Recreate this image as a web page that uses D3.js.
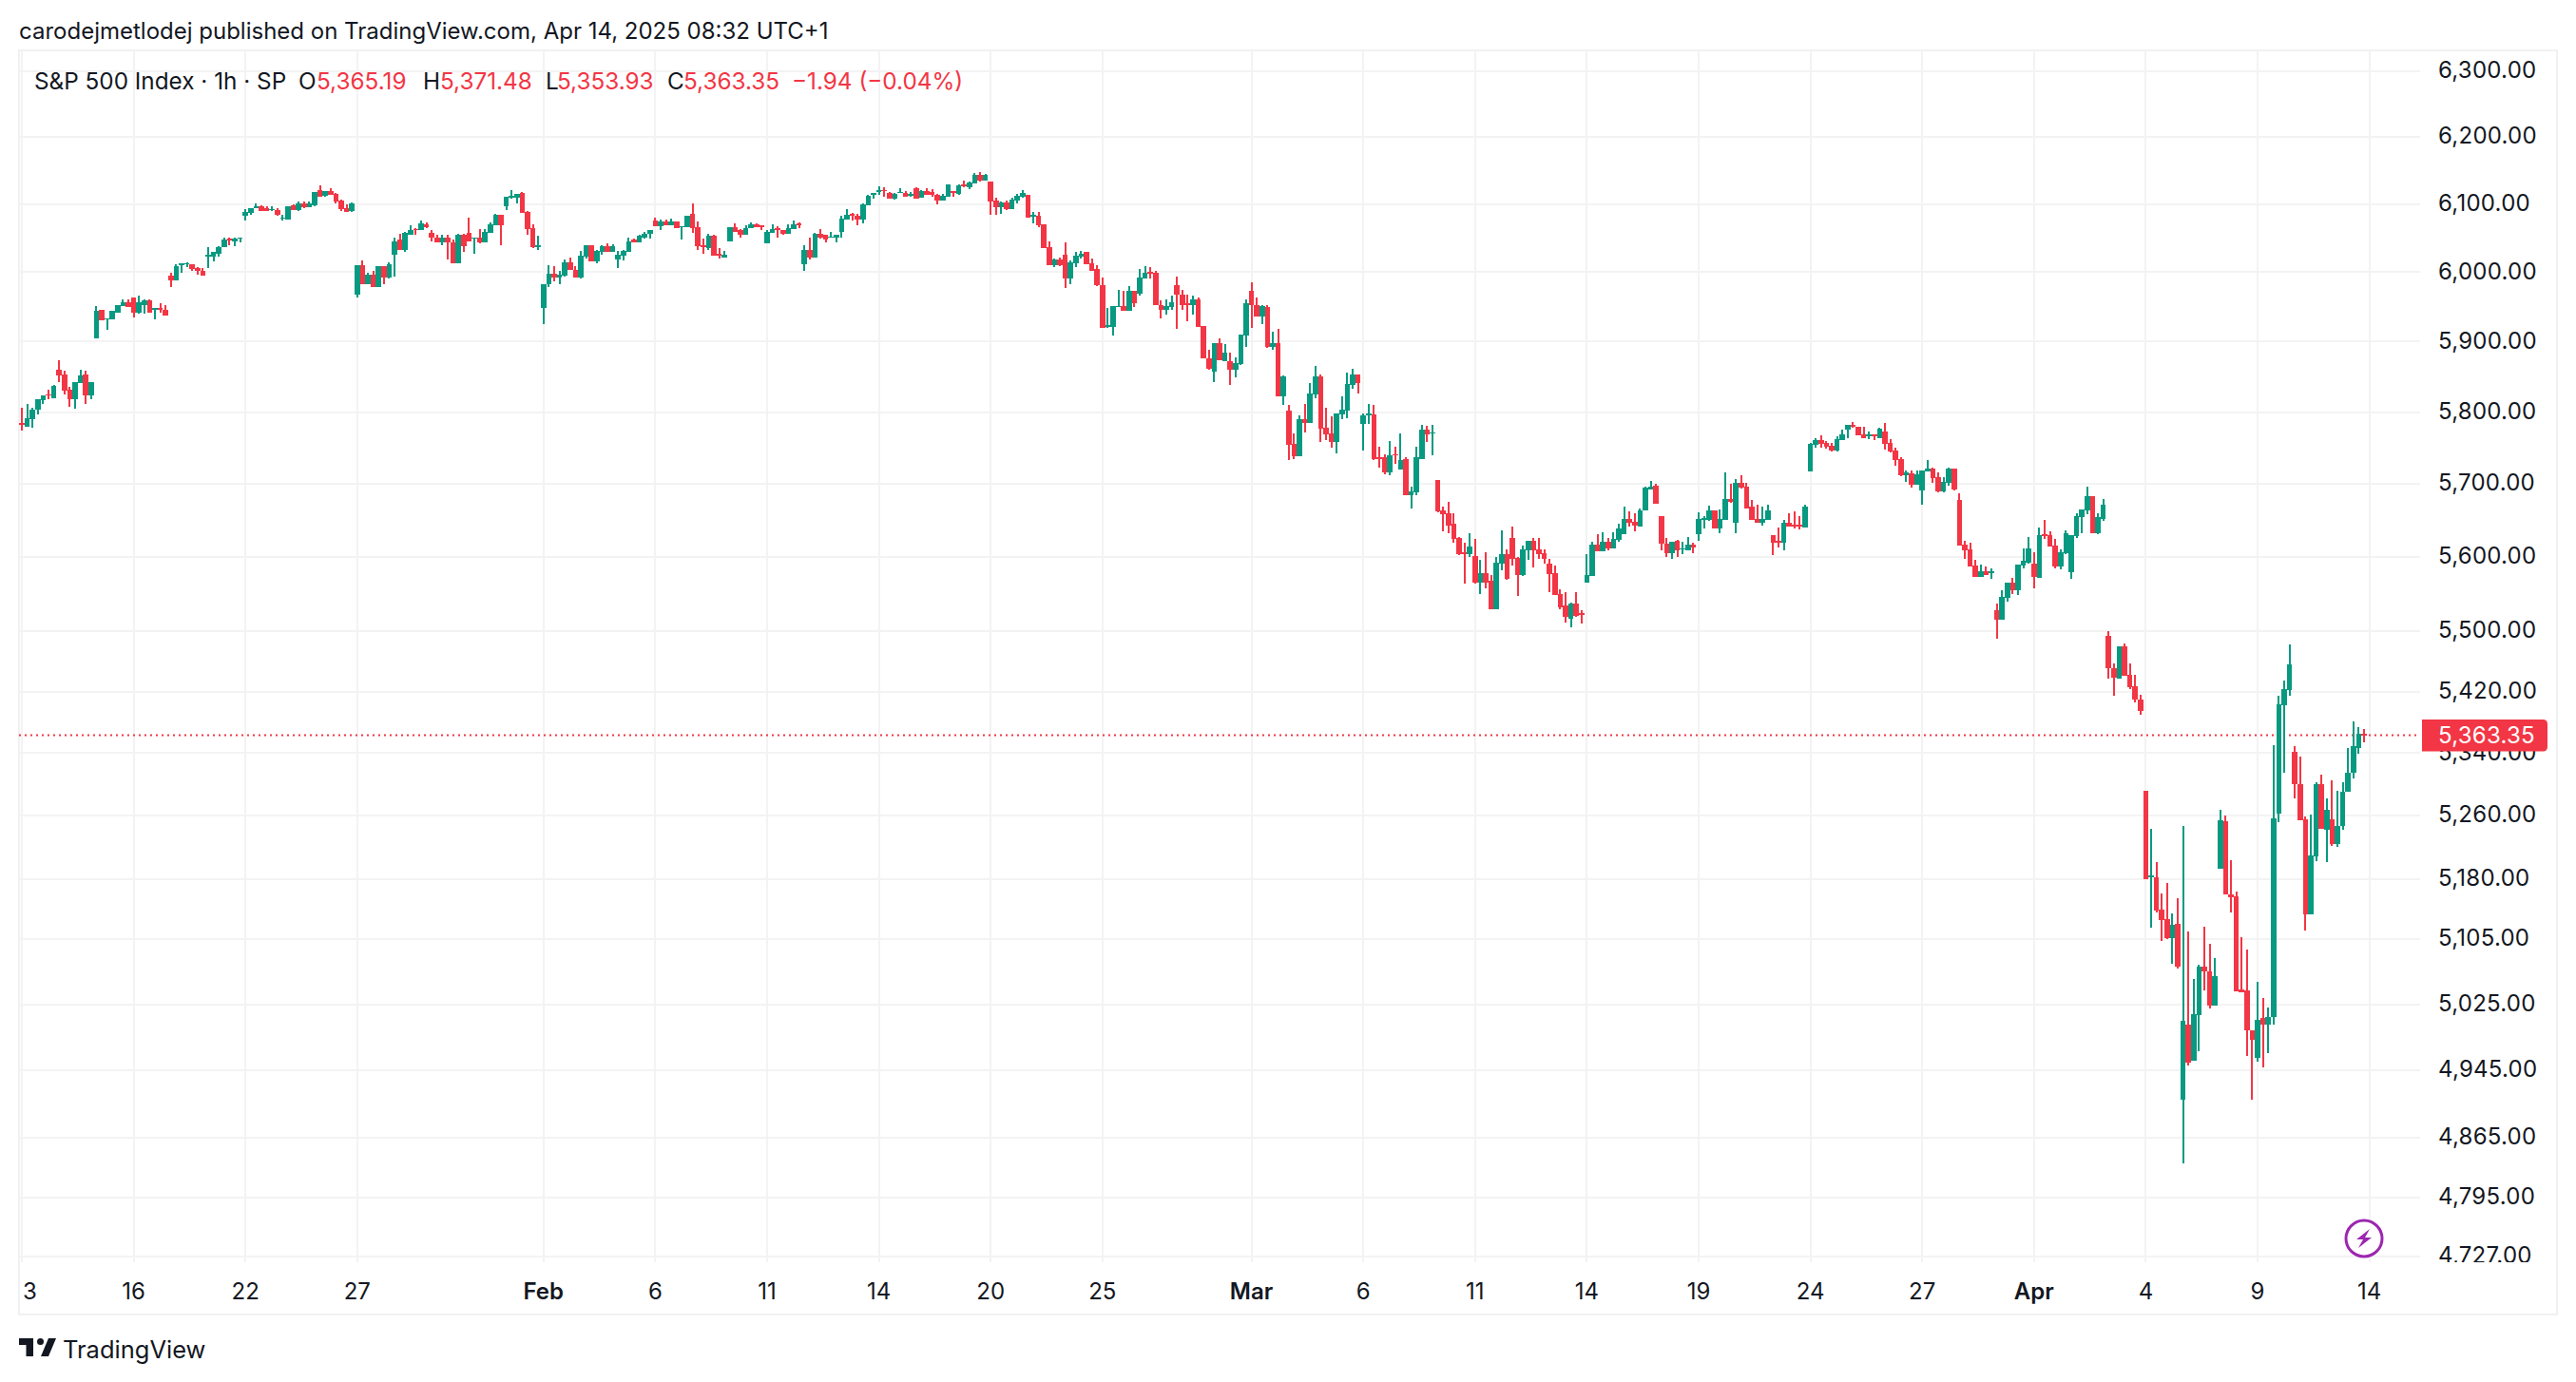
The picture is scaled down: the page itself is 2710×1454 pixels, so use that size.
<!DOCTYPE html>
<html>
<head>
<meta charset="utf-8">
<title>S&amp;P 500 Index 1h</title>
<script src="https://cdn.jsdelivr.net/npm/d3@7"></script>
<style>
  html, body { margin: 0; padding: 0; background: #fff; }
  svg { display: block; }
  text { font-family: Inter, "Noto Sans", sans-serif; }
</style>
</head>
<body>
<div id="chart"></div>
<script>
// one row per hourly bar: [open, high, low, close]
const janBars = [
  [5784.4,5806,5774,5781.7],[5780,5812,5780,5792],[5790.6,5806,5778.6,5804],[5803,5817.6,5797,5817.6],[5816.7,5824,5812,5824],[5825,5831,5817.6,5823.4],[5820,5839,5820,5836.5],
  [5859.5,5873,5842,5851.3],[5852.7,5858,5824.8,5830],[5831,5835,5807,5817.6],[5817.6,5843,5805,5842],[5841,5859.5,5841,5851.3],[5852.7,5858,5811,5824],[5824,5843,5817.6,5843],
  [5904,5950.5,5904,5943.6],[5945,5946,5930,5930],[5931.4,5933.6,5916.4,5933.6],[5932,5943.6,5932,5943.6],[5942,5953,5942,5952],[5950.5,5961,5950.5,5957],[5957,5960,5949,5949],
  [5964,5964,5934,5942],[5942,5965.5,5939.5,5956],[5953,5960,5939.5,5958.6],[5958.6,5960,5942,5942],[5945,5947.7,5931.4,5947.7],[5947.7,5954.5,5940.8,5945],[5945,5953,5937,5937],
  [5995.5,5999.5,5979,5988.6],[5988.6,6012,5988.6,6009.3],[6010.7,6013.5,5999.5,6013.5],[6011.6,6015,6008,6013.5],[6012,6012,6002,6005],[6006.5,6008,5996.8,6002.3],[6002.3,6006.5,5995.5,5995.5],
  [6023,6037,6006.5,6026],[6023,6030,6016,6029],[6027.4,6038.6,6023,6037],[6036,6050,6036,6047],[6048.4,6050,6040,6046],[6044.7,6050,6038.6,6048.4],[6049,6051,6044,6051],
  [6083,6093,6076,6088.8],[6087.4,6094.4,6084.6,6094.4],[6093.5,6101,6093.5,6097],[6097,6098.6,6090,6090],[6094.4,6097,6090,6090],[6091,6097,6089,6093],[6091.6,6094.4,6083,6084.6],
  [6078.6,6084.6,6075,6080.5],[6077.7,6097,6077.7,6097],[6098.6,6100,6091.6,6091.6],[6091.6,6104,6090,6101.4],[6101.4,6104,6094.4,6095.3],[6095.8,6104,6095.8,6101.4],[6098.6,6118,6097,6118],
  [6121,6128,6111,6111],[6112.6,6119.5,6111,6119.5],[6119.5,6123.7,6114,6114],[6115.3,6116.7,6101.4,6104],[6105.6,6107,6090,6093],[6094.4,6100,6088.8,6088.8],[6090,6102.8,6088.8,6101.4],
  [5968,6010.7,5962.7,6010.7],[6010.7,6017,5983,5983],[5983,5999.5,5982,5996.8],[5996.8,6002,5979,5979],[5979,6009.3,5979,6009.3],[6009.3,6009.3,5983,5992.7],[5992.7,6015,5991,6012],
  [6026,6050,5994,6045.6],[6047,6056.7,6032,6033],[6033,6059.5,6030,6058],[6055.3,6069.3,6054,6062.3],[6063.7,6065,6054,6062.3],[6061,6075,6061,6072],[6070.7,6073.5,6065,6066.5],
  [6058,6062.3,6045.6,6050],[6051,6055.3,6043,6044],[6044,6055.3,6040,6051],[6051,6054,6018,6043.3],[6044,6047,6013.5,6013.5],[6013.5,6056.7,6013.5,6054],[6054,6056.7,6029,6038.6],
  [6058,6080.5,6045.6,6045.6],[6049,6051,6027.4,6051],[6050,6063.7,6041.6,6043],[6043,6063.7,6043,6059.5],[6058,6073.5,6058,6070.7],[6068,6086,6068,6084.6],[6084.6,6084.6,6040,6069.3],
  [6097,6111,6091.6,6111],[6109.8,6121,6108,6112.6],[6109.8,6115.3,6101.4,6115.3],[6116.7,6118,6087.4,6087.4],[6088.8,6090,6054,6063.7],[6065,6070.7,6034.6,6036],[6036.3,6052.6,6031.8,6040]
];
const febBars = [
  [5947.7,5983,5924.6,5983],[5982,6010.7,5978,5998],[5998,6009.3,5987,5992.7],[5992.7,6002,5982,5996.4],[5995.5,6019,5994,6015],[6015,6021.7,6002.8,6002.8],[6003.7,6009.3,5992.7,5992.7],
  [5992.7,6031.6,5991,6024.6],[6023,6040,6020,6040],[6040,6040,6016,6016],[6016,6033,6013.5,6031.6],[6030,6040,6026,6038.6],[6038.6,6042.8,6029,6029],[6029,6041,6029,6038.6],
  [6019,6031.6,6006.5,6026],[6024.6,6033,6017.7,6031.6],[6030,6051,6030,6045.6],[6047,6048.4,6043,6044],[6044,6055.3,6044,6052.6],[6050,6059.5,6048.4,6055.8],[6055.8,6062.3,6048.4,6061],
  [6076,6080.5,6067.7,6067.7],[6067.7,6077.7,6061,6074.9],[6074.9,6076.8,6068,6069.3],[6069.3,6079,6068,6074.4],[6074.9,6074.9,6064.2,6064.2],[6065.6,6067.9,6047,6067.9],[6065.6,6083.3,6065.6,6083.3],
  [6086,6101.4,6058,6065],[6066.5,6074.9,6033,6038.6],[6040,6048.4,6027.4,6036],[6034.6,6056.7,6033,6052.6],[6052.6,6055.3,6024.6,6024.6],[6027.4,6035.8,6020.3,6024.6],[6021.8,6031.6,6021.8,6026],
  [6045.6,6066.5,6045.6,6066.5],[6066.5,6072,6059.5,6059.5],[6062.3,6063.7,6051,6054],[6054,6069.3,6054,6065],[6064.2,6073.5,6064.2,6070.7],[6070.7,6072,6066.5,6066.5],[6069.3,6069.3,6061,6066.5],
  [6042.8,6061,6042.8,6059.5],[6058,6070.7,6058,6063.7],[6065,6067.9,6050,6062.3],[6062.3,6062.3,6054,6056.7],[6056.7,6070.7,6056.7,6065],[6063.7,6076,6063.7,6070.7],[6072,6073.5,6065,6069.3],
  [6012,6040,6002.3,6033],[6033,6050,6019,6021.7],[6021.7,6058,6021.7,6056.7],[6056.7,6063.7,6048.4,6050],[6054,6055.3,6043,6047],[6050,6059.5,6050,6052],[6051,6054,6043,6054],
  [6059.5,6082,6051,6079],[6077.7,6093,6077.7,6084.6],[6086,6087.4,6076,6083.3],[6083.3,6086,6068,6077.7],[6077.7,6101.4,6072,6100],[6098.6,6114,6098.6,6112.6],[6114,6116.7,6108.4,6116.7],
  [6118,6126.5,6114,6121],[6121,6125,6111,6118.6],[6116.7,6118,6108.4,6108.4],[6108.4,6116.7,6107,6115.3],[6115.8,6123.7,6115.8,6118],[6116.7,6119.5,6111,6111],[6113,6118,6111,6114.9],
  [6123.7,6125,6108.4,6108.4],[6109.8,6121,6109.8,6119.5],[6119.5,6123.7,6114,6114],[6118,6122.3,6111,6114],[6114,6115.3,6100,6105.6],[6105.6,6115.3,6105.6,6112.6],[6111,6129,6111,6129],
  [6119.5,6119.5,6111,6116.7],[6115.3,6129,6114,6128],[6129,6135,6125,6126.5],[6125,6133.4,6122.3,6132],[6130.7,6146,6130.7,6143],[6143,6147.4,6133.4,6135],[6135,6144.6,6135,6143],
  [6133.4,6133.4,6084.6,6104],[6105.6,6109.8,6084.6,6095.8],[6095.8,6104,6085.8,6102.8],[6102.8,6105.6,6091.6,6093],[6093,6109.8,6093,6107],[6105.6,6115.3,6101.4,6112.6],[6111,6121,6109.8,6116.7],
  [6114,6114,6080.5,6080.5],[6081.9,6088.8,6072,6084.6],[6083.3,6088.8,6066.5,6069.3],[6070.7,6070.7,6034.6,6034.6],[6036,6045.6,6010.7,6010.7],[6010.7,6020.3,6008,6019],[6019,6021.7,6009.3,6010.7],
  [6026,6044,5977.7,5991.4],[5991.4,6017.7,5982,6015],[6013.5,6029,6008,6024.6],[6023,6031.6,6020.3,6027.4],[6029,6030,6012,6012],[6013.5,6020.3,6002.3,6002.3],[6004.6,6010.7,5980.4,5981.8],
  [5981.8,5992.7,5919,5919],[5920.4,5947.7,5919,5923],[5920.4,5950.5,5908,5950.5],[5949.6,5975,5949.6,5951.4],[5950.5,5972.3,5943.6,5943.6],[5943.6,5980.4,5943.6,5972.3],[5973.6,5973.6,5949,5954.5],
  [5969.5,6005,5965.5,5992.7],[5991.4,6009.3,5991.4,5999.5],[6001,6008,5991.4,5998],[5999.5,6002,5952,5952],[5953,5958.6,5932.7,5946],[5946,5960,5938,5950.5],[5949,5965.5,5946,5956],
  [5981.8,5993.6,5917.7,5967],[5968,5975,5946,5953],[5954.5,5968,5928.6,5953],[5952,5965.5,5938,5960],[5960,5962.7,5920.4,5920.4],[5921.8,5921.8,5875.7,5875.7],[5875.7,5887.8,5859.5,5860.8],
  [5857.7,5897.3,5843,5897.3],[5897.3,5904,5873,5873],[5871.6,5896,5871.6,5883.8],[5871.6,5883.8,5837.8,5859.5],[5859.5,5877,5848.6,5869],[5867.6,5909.5,5866,5909.5],[5908,5960,5893,5954.5]
];
const marBars = [
  [5972.3,5986,5919,5952],[5952,5962.7,5935.5,5935.5],[5935.5,5953,5924.6,5950.5],[5949,5952,5890.5,5891.9],[5891.9,5913.6,5887.8,5897.3],[5897.3,5917.7,5821.6,5821.6],[5821.6,5851.3,5810.7,5850],
  [5802.3,5810.4,5732.5,5754.8],[5756,5770.6,5733.8,5739],[5739,5795.6,5739,5790.4],[5790.4,5811.8,5772,5785],[5785,5841.6,5785,5826.7],[5825.3,5864.7,5820,5851],[5851,5852.5,5758.8,5777.2],
  [5778.5,5806.3,5761.4,5769.3],[5770.6,5794.3,5750.9,5758.8],[5758.8,5798.2,5743,5798.2],[5797,5822.6,5790.4,5803.6],[5802.3,5855.2,5791.7,5840.3],[5839,5860.6,5833.5,5853.8],[5852.5,5852.5,5826.7,5841.6],
  [5783.8,5798,5746.9,5795.6],[5796,5811.8,5783.8,5798.2],[5797,5810.4,5732.5,5733.8],[5737.7,5752.2,5721.9,5734.7],[5736.4,5741.6,5712.8,5715.4],[5715.4,5760,5711.5,5740.3],[5741.6,5752.2,5727.2,5739.4],
  [5719.3,5770.6,5719.3,5732.5],[5733.8,5736.4,5683.8,5683.8],[5683.8,5695.6,5666.7,5690.3],[5689,5752.2,5685,5736.4],[5734.2,5782.5,5734.2,5776],[5776,5781.2,5758,5768.5],[5769.8,5782.5,5740.3,5772],
  [5706,5706,5660.3,5661.6],[5663,5668.2,5635,5657.8],[5659,5674.8,5632.7,5643.2],[5645.8,5659,5619.3,5624.6],[5626,5627.3,5602,5603.5],[5606,5619.3,5564.3,5604],[5603.5,5632.7,5599.6,5614],
  [5600.8,5625,5564.3,5565.6],[5565.6,5595.8,5550.5,5578.7],[5578.7,5606,5558,5565.6],[5568,5575.6,5529.4,5529.4],[5529.4,5599.6,5529.4,5592],[5591,5636.2,5582,5603.5],[5603.5,5610,5569.7,5571],
  [5625.6,5641,5588.2,5597],[5598.2,5599.6,5547,5575.6],[5575.6,5615.6,5574,5610],[5609,5622,5595.8,5622],[5622,5626,5586,5609],[5610,5626,5597,5603.5],[5605,5610,5591,5597],
  [5591,5597,5552,5577],[5578.7,5589,5548.8,5548.8],[5550,5556.4,5530,5532.7],[5534,5552,5511.6,5519],[5516.4,5539,5505,5537.8],[5537.8,5553,5519,5520],[5524,5527.7,5510,5522],
  [5565.6,5603.5,5565.6,5575.6],[5574.4,5620.8,5574.4,5616.9],[5616.9,5631.3,5608,5608],[5608,5634,5608,5620.8],[5620.8,5626,5609.4,5612],[5612,5634,5612,5624.6],[5623.4,5645.8,5620.8,5639],
  [5631.3,5669,5631.3,5652],[5652,5662.8,5641.8,5647],[5648,5659,5635,5643],[5641.8,5666.7,5641.8,5664],[5663,5695.6,5663,5694.3],[5692,5703.5,5692,5696],[5697,5699.6,5673,5673],
  [5655.3,5655.3,5608.4,5617.7],[5618,5626,5600,5605],[5605,5621,5597,5621],[5622.4,5623.7,5600,5609],[5610,5621,5603.5,5612],[5609,5627.3,5609,5616.7],[5616.7,5619.4,5604.8,5613],
  [5631.3,5660.3,5622.4,5652.4],[5651,5655.3,5639.2,5653.3],[5651,5669.7,5649.8,5663],[5663,5663,5639.2,5639.2],[5639.2,5664.3,5632.6,5652.4],[5651,5716,5651,5679],[5679,5700,5673.7,5675],
  [5646,5706.6,5632.6,5701.3],[5701.3,5711.8,5693.4,5694.7],[5696,5701.3,5665.6,5665.6],[5668.2,5677.6,5651,5651],[5652.4,5671,5646,5646],[5646,5668.2,5643,5652.4],[5651,5672,5651,5663],
  [5630.3,5630.3,5603,5620],[5622.4,5640,5613,5620],[5620,5650,5609,5647.2],[5647,5659,5641.5,5641.5],[5644.5,5661.6,5639.2,5641.5],[5644.5,5655.3,5638,5641.5],[5640.6,5671,5640.6,5668.2],
  [5717,5756.6,5717,5755.3],[5754,5763,5750,5760.5],[5760.5,5767,5750,5755.3],[5756.6,5759,5748.7,5751.3],[5752.6,5756.6,5744.8,5746],[5746,5765.8,5744.8,5761.8],[5760.5,5775,5760.5,5768.4],
  [5775,5781.6,5763.2,5781.6],[5782,5786.8,5778,5780],[5780,5780,5767,5767],[5768.4,5778.9,5763.2,5763.2],[5766.6,5772.4,5761.8,5768.4],[5768.4,5768.4,5760.5,5765.8],[5763.2,5777.6,5763.2,5776.3],
  [5772.4,5784.2,5747.4,5755.3],[5756.6,5761.8,5743.5,5744.8],[5746,5750,5725,5732.9],[5734.2,5736.8,5710.5,5711.8],[5711.8,5718.4,5702.6,5715.3],[5714.4,5718.4,5694.7,5698.7],[5698.7,5718.4,5698.7,5713],
  [5690.8,5718.4,5671,5718.4],[5717,5733,5717,5721],[5721,5722.4,5701.3,5708],[5709,5715.8,5688,5689.5],[5689.5,5709.3,5688,5702.6],[5701.3,5722.4,5697.4,5721],[5721,5721,5690.8,5692],
  [5677.6,5686.8,5615.5,5615.5],[5617,5622,5598,5609],[5610,5619.4,5587.6,5587.6],[5589,5595.8,5572.4,5572.4],[5572.4,5590,5572.4,5580.8],[5580.8,5587,5575,5575],[5578.6,5585,5571,5580.4],
  [5527.8,5536.6,5490,5515],[5515,5555.5,5515,5546.6],[5545.4,5565.6,5540,5565.6],[5565.6,5572,5550.4,5555.5],[5555.5,5589.5,5549,5589.5],[5588,5611.5,5584.5,5594.5],[5592.9,5627.3,5591.6,5611.5]
];
const aprBars = [
  [5591.6,5606,5558,5573],[5571.9,5640.5,5571.9,5630],[5631.3,5651,5624.6,5628.6],[5630,5635.5,5614,5614],[5615.5,5624.6,5584.5,5587],[5587,5610,5583,5606],[5605,5636.6,5603.5,5632.6],
  [5579.4,5630,5570.6,5630],[5628.6,5659.4,5626,5655.3],[5653.9,5664.3,5632.6,5664.3],[5663,5696,5657.8,5682.8],[5682.8,5682.8,5632.6,5632.6],[5632.6,5659.4,5631.3,5653.9],[5652.4,5679,5649.8,5671],
  [5493.7,5500,5437,5451],[5451,5457.3,5415.3,5438.4],[5437,5479.6,5437,5479.6],[5479.6,5483.5,5440.9,5440.9],[5442.8,5457.3,5423.9,5426.3],[5427.8,5442.8,5406.4,5409.3],[5409.6,5415.7,5390,5395.4],
  [5291.5,5291.5,5180,5180],[5182.7,5243.1,5119,5184],[5181.8,5201,5138,5140],[5141.8,5161.8,5102,5128.6],[5129.5,5175,5105,5106],[5106,5136.4,5074,5122.7],[5123.6,5156,5069,5071.4],
  [4910.4,5247,4835.3,5004.8],[5000,5114,4950.8,4954.7],[4956.4,5055.8,4956.4,5012.6],[5011.7,5072.8,4967.6,5071.4],[5071.4,5120.4,5042,5064.7],[5065.5,5099,5020,5023.2],[5023.2,5081.9,5023.2,5059.7],
  [5193,5267,5193,5253.6],[5252.7,5259.5,5160,5160],[5161,5203,5138,5157],[5158,5163.5,5041,5041],[5043.2,5107,5040,5040],[5041.5,5091.5,4962.9,4992.8],[4993.6,4993.6,4910.4,4982.2],
  [4960,5052,4955,5006.5],[5007.8,5032.6,4948.6,5000],[5000,5020.6,4966,5009],[5009,5350.4,5000,5255.9],[5262.4,5415.3,5251,5404],[5402,5435,5315,5423.9],[5422.9,5482,5415.3,5456.8],
  [5342,5349.5,5281.7,5300.6],[5300.6,5335.8,5254,5254],[5255,5258.6,5115,5135],[5135.5,5261,5135.5,5208.8],[5208,5303,5202,5300.6],[5300.6,5312.8,5243,5243],[5242,5281.7,5201,5267],
  [5255,5305,5221.6,5224],[5224,5291.5,5220.8,5247],[5247,5303,5242,5290.6],[5290.6,5347,5290.6,5315],[5315,5381.5,5307.4,5349.5],[5347,5374,5339.5,5365.6],[5365.19,5371.48,5353.93,5363.35]
];

const priceTicks = [6300,6200,6100,6000,5900,5800,5700,5600,5500,5420,5340,5260,5180,5105,5025,4945,4865,4795,4727];
// trading day count since the first bar, and the label printed under it
const dayTicks = [0,3,6,9,14,17,20,23,26,29,33,36,39,42,45,48,51,54,57,60,63];
const dayLabels = ['3','16','22','27','Feb','6','11','14','20','25','Mar','6','11','14','19','24','27','Apr','4','9','14'];
const monthLabels = ['Feb','Mar','Apr'];
const barsPerDay = 7;
const lastPrice = 5363.35;

const legendParts = [
  { x: 36, text: 'S&P 500 Index · 1h · SP', dark: true },
  { x: 314, text: 'O', dark: true }, { x: 333, text: '5,365.19' },
  { x: 445, text: 'H', dark: true }, { x: 463, text: '5,371.48' },
  { x: 574, text: 'L', dark: true }, { x: 586, text: '5,353.93' },
  { x: 702, text: 'C', dark: true }, { x: 719, text: '5,363.35' },
  { x: 833, text: '−1.94 (−0.04%)' },
];

const W = 2710, H = 1454;
const COL = { up: '#089981', down: '#f23645', grid: '#f3f3f4', frame: '#f0f1f2', text: '#131722' };
const bars = [...janBars, ...febBars, ...marBars, ...aprBars];

const svg = d3.select('#chart').append('svg')
  .attr('width', W).attr('height', H).attr('viewBox', `0 0 ${W} ${H}`);

const paneLeft = 20, paneRight = 2546, paneTop = 53, paneBottom = 1328;

const x = d3.scaleLinear().domain([0, 440]).range([23, 2487]);
const y = d3.scaleLog().domain([4727, 6300]).range([1322, 74.5]);

svg.append('defs').append('clipPath').attr('id', 'axis-clip')
  .append('rect').attr('x', paneRight).attr('y', paneTop).attr('width', 144).attr('height', paneBottom - paneTop);

// Title
svg.append('text').attr('x', 20).attr('y', 41)
  .attr('font-size', 24).attr('fill', COL.text)
  .text('carodejmetlodej published on TradingView.com, Apr 14, 2025 08:32 UTC+1');

// Frame
svg.append('rect').attr('x', paneLeft).attr('y', paneTop)
  .attr('width', 2690 - paneLeft).attr('height', 1383 - paneTop)
  .attr('fill', 'none').attr('stroke', COL.frame).attr('stroke-width', 2);

// Grid
const grid = svg.append('g').attr('shape-rendering', 'crispEdges').attr('stroke', COL.grid).attr('stroke-width', 2);
grid.selectAll('.h').data(priceTicks).join('line').attr('class', 'h')
  .attr('x1', paneLeft).attr('x2', paneRight)
  .attr('y1', d => y(d)).attr('y2', d => y(d));
grid.selectAll('.v').data(dayTicks).join('line').attr('class', 'v')
  .attr('x1', d => x(d * barsPerDay)).attr('x2', d => x(d * barsPerDay))
  .attr('y1', paneTop).attr('y2', paneBottom);

// Last price line, under the candles
svg.append('line')
  .attr('x1', paneLeft).attr('x2', paneRight)
  .attr('y1', y(lastPrice)).attr('y2', y(lastPrice))
  .attr('stroke', COL.down).attr('stroke-width', 2).attr('stroke-dasharray', '2,4');

// Candles
const candleG = svg.append('g').attr('shape-rendering', 'crispEdges');
const candles = candleG.selectAll('g').data(bars).join('g')
  .attr('fill', d => d[3] >= d[0] ? COL.up : COL.down);
candles.append('rect')
  .attr('x', (d, i) => Math.round(x(i)) - 1).attr('width', 2)
  .attr('y', d => y(d[1])).attr('height', d => y(d[2]) - y(d[1]));
candles.append('rect')
  .attr('x', (d, i) => Math.round(x(i) - 2.75))
  .attr('width', (d, i) => Math.round(x(i) + 2.75) - Math.round(x(i) - 2.75))
  .attr('y', d => y(Math.max(d[0], d[3])))
  .attr('height', d => Math.max(1.5, Math.abs(y(d[0]) - y(d[3]))));

// Legend
svg.append('g').selectAll('text').data(legendParts).join('text')
  .attr('x', d => d.x).attr('y', 94)
  .attr('font-size', 24.3).attr('fill', d => d.dark ? COL.text : COL.down)
  .text(d => d.text);

// Price axis
svg.append('g').attr('clip-path', 'url(#axis-clip)')
  .selectAll('text').data(priceTicks).join('text')
  .attr('x', 2565).attr('y', d => y(d)).attr('dy', '0.3em')
  .attr('font-size', 24).attr('letter-spacing', 0.25).attr('fill', COL.text)
  .text(d => d3.format(',.2f')(d));

// Time axis
svg.append('g').selectAll('text').data(dayTicks).join('text')
  .attr('x', (d, i) => i === 0 ? 24 : x(d * barsPerDay))
  .attr('y', 1367)
  .attr('text-anchor', (d, i) => i === 0 ? 'start' : 'middle')
  .attr('font-size', 24).attr('fill', COL.text)
  .attr('font-weight', (d, i) => monthLabels.includes(dayLabels[i]) ? 600 : 400)
  .text((d, i) => dayLabels[i]);

// Last price tag
svg.append('path')
  .attr('d', 'M2548,757H2675.5a4.5,4.5 0 0 1 4.5,4.5V786a4.5,4.5 0 0 1 -4.5,4.5H2548Z')
  .attr('fill', COL.down);
svg.append('text').attr('x', 2565).attr('y', y(lastPrice)).attr('dy', '0.36em')
  .attr('font-size', 24).attr('letter-spacing', 0.25).attr('fill', '#fff')
  .text(d3.format(',.2f')(lastPrice));

// Bolt icon
const bolt = svg.append('g').attr('transform', 'translate(2487,1303)');
bolt.append('circle').attr('r', 19).attr('fill', '#fff').attr('stroke', '#9c27b0').attr('stroke-width', 3);
bolt.append('path').attr('d', 'M6,-10L-8,1L-1,1L-6,10L8,-1L1,-1Z').attr('fill', '#9c27b0');

// TradingView logo
const logo = svg.append('g').attr('transform', 'translate(20,1408)').attr('fill', '#131722');
logo.append('path').attr('d', 'M0,0H15V19H7.5V7H0Z');
logo.append('circle').attr('cx', 22.5).attr('cy', 3.5).attr('r', 3.5);
logo.append('path').attr('d', 'M31,0H39L31,19H23Z');
svg.append('text').attr('x', 66).attr('y', 1429)
  .attr('font-size', 25.5).attr('fill', COL.text).text('TradingView');
</script>
</body>
</html>
